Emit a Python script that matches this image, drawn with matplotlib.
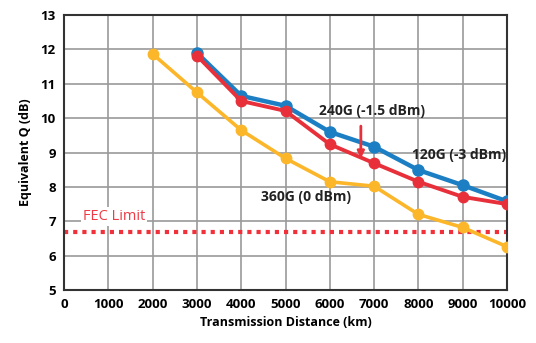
import matplotlib
matplotlib.use("Agg")
import matplotlib.pyplot as plt

plt.rcParams['font.family'] = ['Open Sans', 'DejaVu Sans']
plt.rcParams['font.weight'] = 'bold'

dist_120 = [3000, 4000, 5000, 6000, 7000, 8000, 9000, 10000]
q_120 = [11.9, 10.65, 10.36, 9.6, 9.17, 8.49, 8.05, 7.58]
dist_240 = [3000, 4000, 5000, 6000, 7000, 8000, 9000, 10000]
q_240 = [11.82, 10.5, 10.21, 9.24, 8.69, 8.15, 7.71, 7.5]
dist_360 = [2000, 3000, 4000, 5000, 6000, 7000, 8000, 9000, 10000]
q_360 = [11.87, 10.75, 9.65, 8.83, 8.15, 8.02, 7.2, 6.82, 6.26]
fec_limit = 6.68

xticks = list(range(0, 10001, 1000))
yticks = list(range(5, 14))

fig = plt.figure(figsize=(5.36, 3.43), dpi=100)
ax = fig.add_axes([0.1194, 0.1545, 0.8266, 0.8015])

c_blue = '#1d7fc3'
c_red = '#e8303a'
c_yel = '#fcb62a'

ax.plot(dist_360, q_360, color=c_yel, lw=2.6, marker='o', ms=7.5, zorder=3)
ax.plot(dist_120, q_120, color=c_blue, lw=3.2, marker='o', ms=8, zorder=4)
ax.plot(dist_240, q_240, color=c_red, lw=2.8, marker='o', ms=7.5, zorder=5)
ax.axhline(fec_limit, color='#f0303a', lw=3, ls=(0, (1, 1.2)), zorder=2)

ax.set_xlim(0, 10000)
ax.set_ylim(5, 13)
ax.set_xticks(xticks)
ax.set_yticks(yticks)
ax.grid(True, color='#9a9a9a', lw=1.2, zorder=0)
ax.set_axisbelow(True)
for s in ax.spines.values():
    s.set_color('#333333')
    s.set_linewidth(1.5)
ax.tick_params(length=0, labelsize=9.5, pad=6)
for lbl in ax.get_xticklabels() + ax.get_yticklabels():
    lbl.set_fontweight('bold')

ax.set_xlabel('Transmission Distance (km)', fontsize=9, fontweight='bold', labelpad=3)
ax.set_ylabel('Equivalent Q (dB)', fontsize=9, fontweight='bold', labelpad=6)

ax.text(5750, 10.1, '240G (-1.5 dBm)', fontsize=10, fontweight='bold', color='#222222', zorder=6)
ax.text(7850, 8.8, '120G (-3 dBm)', fontsize=10, fontweight='bold', color='#222222', zorder=6)
ax.text(4450, 7.6, '360G (0 dBm)', fontsize=10, fontweight='bold', color='#222222', zorder=6)
ax.text(420, 7.05, 'FEC Limit', fontsize=10.5, fontweight='normal', color='#f03a45', zorder=6,
        bbox=dict(facecolor='white', edgecolor='none', pad=1.5))
ax.annotate('', xy=(6700, 8.75), xytext=(6700, 9.85),
            arrowprops=dict(arrowstyle='-|>', color=c_red, lw=2, mutation_scale=10), zorder=6)

fig.savefig('out.png', dpi=100)
